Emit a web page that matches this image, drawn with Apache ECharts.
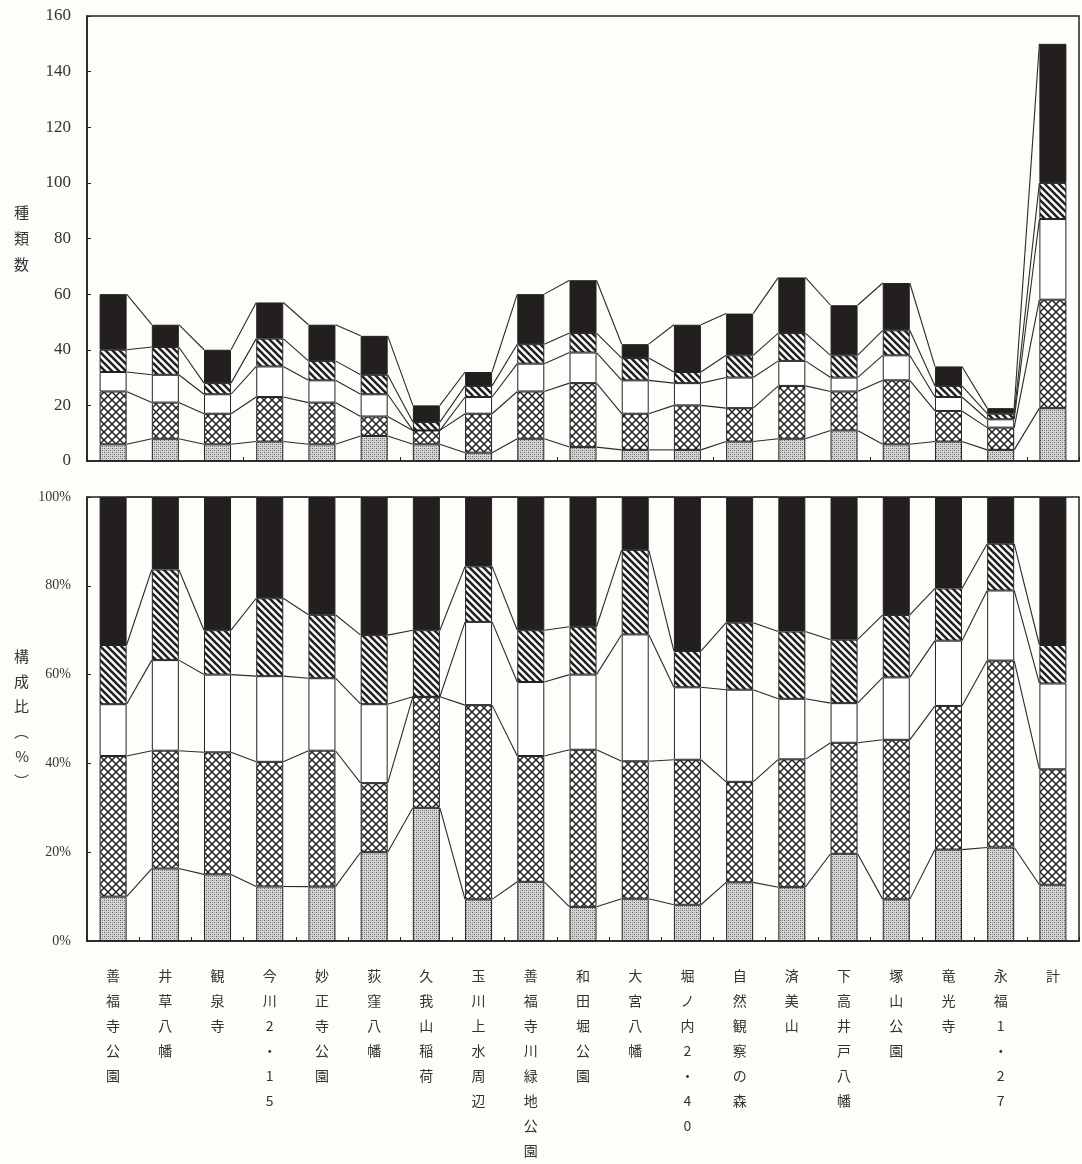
<!DOCTYPE html>
<html>
<head>
<meta charset="utf-8">
<title>種類数と構成比</title>
<script src="https://cdn.jsdelivr.net/npm/echarts@6/dist/echarts.min.js"></script>
<style>
html, body { margin: 0; padding: 0; background: #fdfdfa; }
#chart { width: 1082px; height: 1164px; }
</style>
</head>
<body>
<div id="chart"></div>
<script>
// categories (survey sites) and species counts per group, bottom to top
const categories = ['善福寺公園', '井草八幡', '観泉寺', '今川2・15', '妙正寺公園', '荻窪八幡', '久我山稲荷', '玉川上水周辺', '善福寺川緑地公園', '和田堀公園', '大宮八幡', '堀ノ内2・40', '自然観察の森', '済美山', '下高井戸八幡', '塚山公園', '竜光寺', '永福1・27', '計'];
const dotData    = [6, 8, 6, 7, 6, 9, 6, 3, 8, 5, 4, 4, 7, 8, 11, 6, 7, 4, 19];
const crossData  = [19, 13, 11, 16, 15, 7, 5, 14, 17, 23, 13, 16, 12, 19, 14, 23, 11, 8, 39];
const whiteData  = [7, 10, 7, 11, 8, 8, 0, 6, 10, 11, 12, 8, 11, 9, 5, 9, 5, 3, 29];
const stripeData = [8, 10, 4, 10, 7, 7, 3, 4, 7, 7, 8, 4, 8, 10, 8, 9, 4, 2, 13];
const blackData  = [20, 8, 12, 13, 13, 14, 6, 5, 18, 19, 5, 17, 15, 20, 18, 17, 7, 2, 50];
const countTicks = [0, 160, 20];
const pctTicks = [0, 100, 20];

const BAR_W = 27;
const INK = '#222';

function tile(size, draw) {
  const c = document.createElement('canvas');
  c.width = size; c.height = size;
  draw(c.getContext('2d'), size);
  return { image: c, repeat: 'repeat' };
}
const dotFill = tile(4, (g, s) => {
  g.fillStyle = '#d6d6d3'; g.fillRect(0, 0, s, s);
  g.fillStyle = '#5e5e5e'; g.fillRect(0, 0, 1, 1); g.fillRect(2, 2, 1, 1);
  g.fillStyle = '#959595'; g.fillRect(2, 0, 1, 1); g.fillRect(0, 2, 1, 1);
});
const crossFill = tile(8, (g, s) => {
  g.fillStyle = '#fff'; g.fillRect(0, 0, s, s);
  g.strokeStyle = INK; g.lineWidth = 1.5;
  g.beginPath();
  g.moveTo(-1, -1); g.lineTo(s + 1, s + 1);
  g.moveTo(s + 1, -1); g.lineTo(-1, s + 1);
  g.stroke();
});
const stripeFill = tile(7, (g, s) => {
  g.fillStyle = '#fff'; g.fillRect(0, 0, s, s);
  g.strokeStyle = INK; g.lineWidth = 2.6;
  g.beginPath();
  [-s, 0, s].forEach(c => { g.moveTo(-1, -1 + c); g.lineTo(s + 1, s + 1 + c); });
  g.stroke();
});

const groups = [
  { data: dotData, color: dotFill },
  { data: crossData, color: crossFill },
  { data: whiteData, color: '#fff' },
  { data: stripeData, color: stripeFill },
  { data: blackData, color: '#221f1e' }
];

const totals = categories.map((_, i) => groups.reduce((s, g) => s + g.data[i], 0));
const pctGroups = groups.map(g => g.data.map((v, i) => v / totals[i] * 100));

function cumulate(rows) {
  const out = [];
  let run = categories.map(() => 0);
  rows.forEach(r => { run = run.map((v, i) => v + r[i]); out.push(run); });
  return out;
}
const cumCount = cumulate(groups.map(g => g.data));
const cumPct = cumulate(pctGroups);

function linkData(cum) {
  const rows = [];
  for (let i = 0; i < categories.length - 1; i++) {
    rows.push([i].concat(cum.map(r => r[i]), cum.map(r => r[i + 1])));
  }
  return rows;
}

// lines joining the segment edges of neighbouring bars
function renderLinks(params, api) {
  const i = api.value(0);
  const xa = api.coord([i, 0])[0] + BAR_W / 2;
  const xb = api.coord([i + 1, 0])[0] - BAR_W / 2;
  const children = [];
  for (let k = 0; k < 5; k++) {
    const ya = api.coord([i, api.value(1 + k)])[1];
    const yb = api.coord([i + 1, api.value(6 + k)])[1];
    children.push({
      type: 'line',
      shape: { x1: xa, y1: ya, x2: xb, y2: yb },
      style: { stroke: '#2a2a2a', lineWidth: 1.1 }
    });
  }
  return { type: 'group', children };
}

const chart = echarts.init(document.getElementById('chart'));

const axisLine = { show: true, lineStyle: { color: INK, width: 1.5 } };
const serif = '"Liberation Serif", "DejaVu Serif", serif';
const jp = '"Noto Sans CJK JP", sans-serif';

const barSeries = [];
groups.forEach((g, k) => {
  barSeries.push({
    type: 'bar', stack: 'count', xAxisIndex: 0, yAxisIndex: 0,
    barWidth: BAR_W, data: g.data, z: 3,
    itemStyle: { color: g.color, borderColor: INK, borderWidth: 1 }
  });
});
groups.forEach((g, k) => {
  barSeries.push({
    type: 'bar', stack: 'pct', xAxisIndex: 1, yAxisIndex: 1,
    barWidth: BAR_W, data: pctGroups[k], z: 3,
    itemStyle: { color: g.color, borderColor: INK, borderWidth: 1 }
  });
});

chart.setOption({
  backgroundColor: '#fdfdfa',
  animation: false,
  grid: [
    { left: 87, right: 3, top: 16, height: 445, show: true, borderColor: INK, borderWidth: 1.5 },
    { left: 87, right: 3, top: 497, height: 444, show: true, borderColor: INK, borderWidth: 1.5 }
  ],
  xAxis: [
    { type: 'category', gridIndex: 0, data: categories,
      axisLine, axisTick: { show: true, inside: true, length: 4, lineStyle: { color: INK } },
      axisLabel: { show: false } },
    { type: 'category', gridIndex: 1, data: categories,
      axisLine, axisTick: { show: true, inside: true, length: 4, lineStyle: { color: INK } },
      axisLabel: {
        interval: 0, margin: 22, color: '#333', fontFamily: jp, fontSize: 14,
        lineHeight: 25, verticalAlign: 'top',
        formatter: v => v.split('').join('\n')
      } }
  ],
  yAxis: [
    { type: 'value', gridIndex: 0, min: countTicks[0], max: countTicks[1], interval: countTicks[2],
      axisLine, splitLine: { show: false },
      axisTick: { show: true, inside: true, length: 4, lineStyle: { color: INK } },
      axisLabel: { margin: 16, color: '#333', fontFamily: serif, fontSize: 17 },
      name: '種\n類\n数', nameLocation: 'middle', nameRotate: 0, nameGap: 58,
      nameTextStyle: { color: '#333', fontFamily: jp, fontSize: 15, lineHeight: 26 } },
    { type: 'value', gridIndex: 1, min: pctTicks[0], max: pctTicks[1], interval: pctTicks[2],
      axisLine, splitLine: { show: false },
      axisTick: { show: true, inside: true, length: 4, lineStyle: { color: INK } },
      axisLabel: { margin: 16, color: '#333', fontFamily: serif, fontSize: 14, formatter: '{value}%' },
      name: '構\n成\n比\n︵\n%\n︶', nameLocation: 'middle', nameRotate: 0, nameGap: 58,
      nameTextStyle: { color: '#333', fontFamily: jp, fontSize: 15, lineHeight: 25 } }
  ],
  series: barSeries.concat([
    { type: 'custom', xAxisIndex: 0, yAxisIndex: 0, renderItem: renderLinks,
      data: linkData(cumCount), encode: { x: 0, y: 1 }, z: 2, silent: true },
    { type: 'custom', xAxisIndex: 1, yAxisIndex: 1, renderItem: renderLinks,
      data: linkData(cumPct), encode: { x: 0, y: 1 }, z: 2, silent: true }
  ])
});
</script>
</body>
</html>
